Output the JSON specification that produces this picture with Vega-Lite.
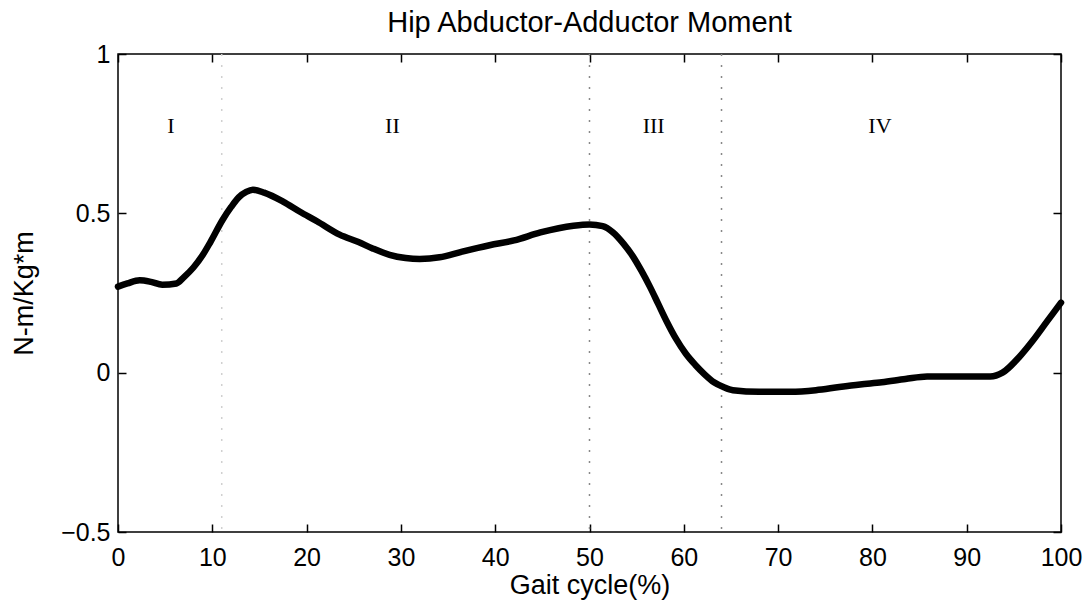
{
  "$schema": "https://vega.github.io/schema/vega-lite/v6.json",
  "width": 943,
  "height": 478,
  "autosize": "none",
  "padding": {"left": 118, "top": 54, "right": 30, "bottom": 78},
  "background": "white",
  "title": {"text": "Hip Abductor-Adductor Moment", "font": "Liberation Sans", "fontSize": 29, "fontWeight": "normal", "color": "black", "offset": 4},
  "config": {
    "view": {"stroke": "black", "strokeWidth": 1.5},
    "axis": {"labelFont": "Liberation Sans", "titleFont": "Liberation Sans", "labelFontSize": 25, "titleFontSize": 27, "titleFontWeight": "normal", "labelColor": "black", "titleColor": "black", "tickColor": "black", "grid": false, "domain": false, "tickSize": -8, "tickWidth": 1.5, "labelFlush": false, "labelOverlap": false}
  },
  "datasets": {
    "curve": [
      {"x": 0, "y": 0.27}, {"x": 1, "y": 0.28}, {"x": 2.3, "y": 0.29}, {"x": 3.5, "y": 0.285}, {"x": 4.7, "y": 0.276},
      {"x": 6.2, "y": 0.28}, {"x": 7, "y": 0.3}, {"x": 8, "y": 0.33}, {"x": 9, "y": 0.37}, {"x": 9.8, "y": 0.41},
      {"x": 11.1, "y": 0.48}, {"x": 12, "y": 0.52}, {"x": 12.8, "y": 0.55}, {"x": 13.6, "y": 0.567}, {"x": 14.3, "y": 0.574}, {"x": 15.5, "y": 0.565},
      {"x": 17.5, "y": 0.537}, {"x": 19.3, "y": 0.505}, {"x": 21.1, "y": 0.475}, {"x": 23.5, "y": 0.433}, {"x": 25.5, "y": 0.41},
      {"x": 27, "y": 0.39}, {"x": 28.8, "y": 0.37}, {"x": 30.5, "y": 0.36}, {"x": 32, "y": 0.357}, {"x": 34.1, "y": 0.362},
      {"x": 36.5, "y": 0.38}, {"x": 39.4, "y": 0.4}, {"x": 42, "y": 0.415}, {"x": 44.8, "y": 0.44}, {"x": 48.3, "y": 0.461},
      {"x": 50, "y": 0.465}, {"x": 51.4, "y": 0.46}, {"x": 52.5, "y": 0.44}, {"x": 53.6, "y": 0.405}, {"x": 54.6, "y": 0.365},
      {"x": 55.5, "y": 0.32}, {"x": 56.4, "y": 0.27}, {"x": 57.3, "y": 0.215}, {"x": 58.2, "y": 0.16}, {"x": 59.2, "y": 0.105},
      {"x": 60.2, "y": 0.06}, {"x": 61.2, "y": 0.025}, {"x": 62.2, "y": -0.005}, {"x": 63.2, "y": -0.03}, {"x": 64.2, "y": -0.045},
      {"x": 65.2, "y": -0.055}, {"x": 68, "y": -0.06}, {"x": 71.3, "y": -0.06}, {"x": 74, "y": -0.055}, {"x": 76.5, "y": -0.045}, {"x": 78.7, "y": -0.037},
      {"x": 81, "y": -0.03}, {"x": 83.5, "y": -0.02}, {"x": 85.8, "y": -0.012}, {"x": 89, "y": -0.012}, {"x": 92.5, "y": -0.012},
      {"x": 93.8, "y": 0.0}, {"x": 95.6, "y": 0.05}, {"x": 97, "y": 0.1}, {"x": 98.5, "y": 0.16}, {"x": 100, "y": 0.22}
    ],
    "phases": [
      {"x": 11, "shade": "faint"}, {"x": 50, "shade": "dark"}, {"x": 64, "shade": "dark"}
    ],
    "labels": [
      {"x": 5.6, "y": 0.775, "t": "I"}, {"x": 29.1, "y": 0.775, "t": "II"}, {"x": 56.8, "y": 0.775, "t": "III"}, {"x": 80.8, "y": 0.775, "t": "IV"}
    ]
  },
  "resolve": {"axis": {"x": "independent", "y": "independent"}},
  "layer": [
    {
      "data": {"name": "phases"},
      "mark": {"type": "rule", "strokeDash": [2, 9], "strokeWidth": 1.5},
      "encoding": {
        "x": {"field": "x", "type": "quantitative", "scale": {"domain": [0, 100], "nice": false},
              "axis": {"orient": "top", "labels": false, "title": null, "values": [0, 10, 20, 30, 40, 50, 60, 70, 80, 90, 100]}},
        "color": {"field": "shade", "type": "nominal", "scale": {"domain": ["faint", "dark"], "range": ["#d0d0d0", "#888888"]}, "legend": null}
      }
    },
    {
      "data": {"name": "curve"},
      "mark": {"type": "line", "color": "black", "strokeWidth": 6.5, "interpolate": "monotone", "strokeCap": "round", "strokeJoin": "round"},
      "encoding": {
        "x": {"field": "x", "type": "quantitative", "scale": {"domain": [0, 100], "nice": false},
              "axis": {"orient": "bottom", "title": "Gait cycle(%)", "values": [0, 10, 20, 30, 40, 50, 60, 70, 80, 90, 100], "labelPadding": 21, "titlePadding": 2}},
        "y": {"field": "y", "type": "quantitative", "scale": {"domain": [-0.5, 1], "nice": false},
              "axis": {"orient": "left", "title": "N-m/Kg*m", "format": "~g", "values": [-0.5, 0, 0.5, 1], "labelPadding": 16, "titlePadding": 22}}
      }
    },
    {
      "data": {"name": "labels"},
      "mark": {"type": "text", "font": "Liberation Serif", "fontSize": 22, "color": "black"},
      "encoding": {
        "x": {"field": "x", "type": "quantitative", "scale": {"domain": [0, 100], "nice": false}, "axis": null},
        "y": {"field": "y", "type": "quantitative", "scale": {"domain": [-0.5, 1], "nice": false},
              "axis": {"orient": "right", "labels": false, "title": null, "values": [-0.5, 0, 0.5, 1]}},
        "text": {"field": "t", "type": "nominal"}
      }
    }
  ]
}
